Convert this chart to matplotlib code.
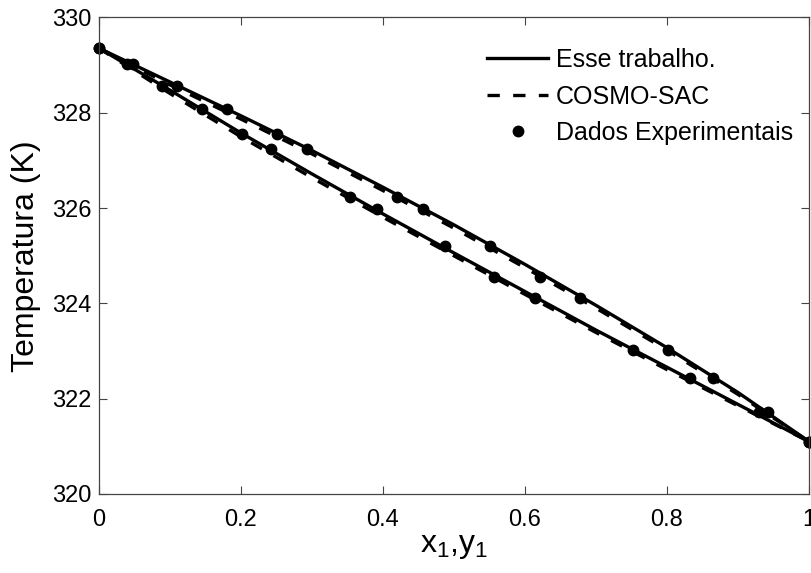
import numpy as np
import matplotlib.pyplot as plt

plt.rcParams['font.family'] = ['Liberation Sans', 'DejaVu Sans']
plt.rcParams['mathtext.fontset'] = 'custom'
plt.rcParams['mathtext.rm'] = 'Liberation Sans'
plt.rcParams['mathtext.it'] = 'Liberation Sans'

# composition grid for the model curves
comp = [0.0, 0.1, 0.2, 0.3, 0.4, 0.5, 0.6, 0.7, 0.8, 0.9, 1.0]

# this work (solid)
T_bub_work = [329.36, 328.48, 327.58, 326.72, 325.88, 325.06, 324.25, 323.44, 322.66, 321.88, 321.10]
T_dew_work = [329.36, 328.65, 327.94, 327.21, 326.44, 325.65, 324.82, 323.96, 323.07, 322.13, 321.10]

# COSMO-SAC (dashed)
T_bub_cosmo = [329.36, 328.41, 327.50, 326.64, 325.81, 325.00, 324.19, 323.39, 322.61, 321.85, 321.10]
T_dew_cosmo = [329.36, 328.59, 327.87, 327.14, 326.37, 325.58, 324.75, 323.90, 323.02, 322.09, 321.10]

# experimental data
T_exp = [329.36, 329.03, 328.56, 328.08, 327.56, 327.24, 326.23, 325.98, 325.20, 324.55, 324.11, 323.02, 322.43, 321.72, 321.10]
x_exp = [0.0, 0.040, 0.089, 0.146, 0.202, 0.243, 0.354, 0.392, 0.487, 0.556, 0.615, 0.753, 0.833, 0.929, 1.0]
y_exp = [0.0, 0.049, 0.111, 0.181, 0.251, 0.294, 0.420, 0.457, 0.551, 0.622, 0.678, 0.801, 0.865, 0.943, 1.0]

fig = plt.figure(figsize=(8.11, 5.73), dpi=100)
ax = fig.add_axes([0.1215, 0.138, 0.876, 0.8315])

lw = 2.4
dash = (3.7, 4.0)
ax.plot(comp, T_bub_work, 'k-', lw=lw, label='Esse trabalho.')
ax.plot(comp, T_dew_work, 'k-', lw=lw)
ax.plot(comp, T_bub_cosmo, 'k--', lw=lw, dashes=dash, label='COSMO-SAC')
ax.plot(comp, T_dew_cosmo, 'k--', lw=lw, dashes=dash)
ax.plot(x_exp, T_exp, 'ko', ms=7.5, ls='none', label='Dados Experimentais', clip_on=False)
ax.plot(y_exp, T_exp, 'ko', ms=7.5, ls='none', clip_on=False)

ax.set_xlim(0, 1)
ax.set_ylim(320, 330)
ax.set_xticks([0, 0.2, 0.4, 0.6, 0.8, 1.0])
ax.set_xticklabels(['0', '0.2', '0.4', '0.6', '0.8', '1'])
ax.set_yticks([320, 322, 324, 326, 328, 330])
ax.tick_params(direction='in', length=6, width=0.8, color='#444444',
               top=True, right=True, labelsize=17)
ax.tick_params(axis='x', pad=11)
ax.tick_params(axis='y', pad=5)
for s in ax.spines.values():
    s.set_color('#444444')
    s.set_linewidth(0.9)

ax.set_xlabel(r'x$_1$,y$_1$', fontsize=23, labelpad=0)
ax.set_ylabel('Temperatura (K)', fontsize=23, labelpad=8)

ax.legend(loc='upper left', bbox_to_anchor=(487 / 811, 1 - 48 / 573),
          bbox_transform=fig.transFigure, frameon=False, fontsize=18,
          handlelength=2.45, handletextpad=0.3, labelspacing=0.5,
          borderpad=0, borderaxespad=0)

fig.savefig('out.png', dpi=100)
